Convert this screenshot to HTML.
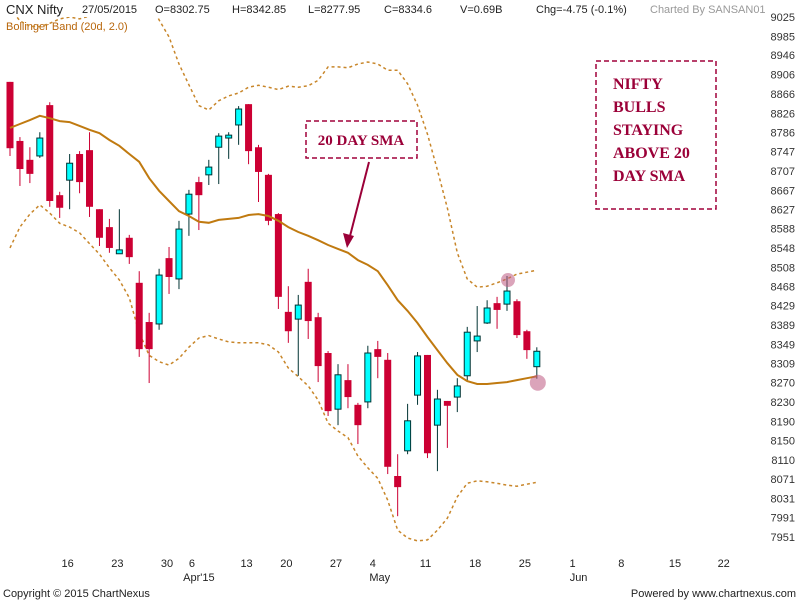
<!DOCTYPE html>
<html><head><meta charset="utf-8"><style>
html,body{margin:0;padding:0;background:#fff;}
svg{display:block;font-family:"Liberation Sans",sans-serif;}
</style></head><body>
<svg id="chart" width="800" height="600" viewBox="0 0 800 600" xmlns="http://www.w3.org/2000/svg">
<defs><clipPath id="plotclip"><rect x="0" y="17" width="760" height="540"/></clipPath></defs>
<rect width="800" height="600" fill="#fff"/>
<g id="header" font-size="11" fill="#222">
<text x="6" y="14" font-size="13">CNX Nifty</text>
<text x="82" y="13">27/05/2015</text>
<text x="155" y="13">O=8302.75</text>
<text x="232" y="13">H=8342.85</text>
<text x="308" y="13">L=8277.95</text>
<text x="384" y="13">C=8334.6</text>
<text x="460" y="13">V=0.69B</text>
<text x="536" y="13">Chg=-4.75 (-0.1%)</text>
<text x="650" y="13" fill="#999">Charted By SANSAN01</text>
<text x="6" y="30" fill="#b8660b">Bollinger Band (20d, 2.0)</text>
</g>
<g id="yaxis" font-size="11" fill="#333" text-anchor="end"></g>
<g id="xaxis" font-size="11" fill="#222" text-anchor="middle"></g>
<g id="bands" clip-path="url(#plotclip)"></g>
<g id="candles"></g>
<g id="marks"></g>
<g>
<rect x="306" y="121" width="111" height="37" fill="none" stroke="#a0003a" stroke-width="1.5" stroke-dasharray="5,3"/>
<text x="361" y="145" text-anchor="middle" font-family="'Liberation Serif',serif" font-weight="bold" font-size="15" fill="#9b0038">20 DAY SMA</text>
<line x1="369" y1="162" x2="349" y2="240" stroke="#9b0038" stroke-width="2"/>
<polygon points="347,248 343,233 354,236" fill="#9b0038"/>
</g>
<g font-family="'Liberation Serif',serif" font-weight="bold" font-size="16" fill="#9b0038">
<rect x="596" y="61" width="120" height="148" fill="none" stroke="#a0003a" stroke-width="1.5" stroke-dasharray="5,3"/>
<text x="613" y="89">NIFTY</text>
<text x="613" y="112">BULLS</text>
<text x="613" y="135">STAYING</text>
<text x="613" y="158">ABOVE 20</text>
<text x="613" y="181">DAY SMA</text>
</g>
<text x="3" y="597" font-size="11" fill="#222">Copyright © 2015 ChartNexus</text>
<text x="796" y="597" font-size="11" fill="#222" text-anchor="end">Powered by www.chartnexus.com</text>
</svg>
<script>
const opens=[8891,8769,8730,8738,8843,8657,8688,8742,8750,8628,8591,8536,8569,8476,8395,8391,8527,8484,8618,8684,8699,8756,8775,8802,8845,8756,8699,8618,8416,8401,8478,8405,8331,8215,8275,8224,8230,8339,8317,8077,8129,8244,8327,8182,8232,8240,8284,8356,8393,8434,8432,8438,8376,8302.75];
const highs=[8891,8777,8756,8787,8849,8664,8742,8748,8787,8628,8608,8628,8575,8500,8414,8505,8550,8604,8668,8695,8730,8785,8787,8841,8845,8761,8701,8620,8469,8451,8505,8414,8335,8308,8308,8228,8346,8356,8331,8122,8226,8333,8327,8255,8232,8279,8385,8428,8440,8447,8490,8442,8379,8342.85];
const lows=[8738,8676,8682,8734,8633,8610,8628,8661,8612,8552,8538,8536,8515,8323,8269,8379,8453,8463,8573,8585,8678,8680,8732,8761,8721,8643,8595,8422,8352,8284,8360,8271,8201,8182,8217,8143,8217,8279,8081,7994,8122,8224,8114,8087,8135,8209,8273,8333,8391,8381,8418,8362,8319,8277.95];
const closes=[8754,8711,8701,8775,8645,8631,8723,8684,8633,8569,8548,8544,8529,8339,8339,8492,8488,8587,8659,8657,8715,8779,8781,8835,8748,8705,8604,8447,8376,8430,8397,8304,8211,8286,8240,8182,8331,8323,8096,8054,8191,8325,8124,8236,8222,8263,8374,8366,8424,8420,8459,8368,8337,8334.6];
const sma=[8796,8804,8812,8821,8816,8810,8808,8800,8792,8785,8771,8759,8742,8726,8692,8666,8645,8624,8614,8602,8600,8606,8608,8610,8616,8618,8614,8604,8591,8581,8573,8564,8554,8546,8538,8523,8513,8500,8471,8440,8418,8393,8364,8337,8310,8286,8273,8267,8267,8269,8271,8275,8279,8283];
const bandDev=[248,213,194,184,196,211,217,221,235,250,264,277,297,353,366,353,339,304,271,240,233,246,254,258,264,266,266,271,291,299,310,330,368,376,382,405,419,428,444,475,469,450,419,372,320,252,211,200,202,207,213,219,219,219];
const yTicks=[9025,8985,8946,8906,8866,8826,8786,8747,8707,8667,8627,8588,8548,8508,8468,8429,8389,8349,8309,8270,8230,8190,8150,8110,8071,8031,7991,7951];
const dayLabels=["16","23","30","6","13","20","27","4","11","18","25","1","8","15","22"];
const dayIndex=[5.8,10.8,15.8,18.3,23.8,27.8,32.8,36.5,41.8,46.8,51.8,56.6,61.5,66.9,71.8];
const monthLabels=["Apr'15","May","Jun"];
const monthIndex=[19,37.2,57.2];
const highlightIdx=[50,53];

const NS="http://www.w3.org/2000/svg";
const yScale=p=>17+(9025-p)*520/1074;
const xScale=i=>10+i*9.94;
function mk(tag,attrs,parent){const e=document.createElementNS(NS,tag);for(const k in attrs)e.setAttribute(k,attrs[k]);parent.appendChild(e);return e;}
const ya=document.getElementById('yaxis');
yTicks.forEach(v=>{const t=mk('text',{x:795,y:yScale(v)+4},ya);t.textContent=v;

});
const xa=document.getElementById('xaxis');
dayLabels.forEach((d,k)=>{const t=mk('text',{x:xScale(dayIndex[k]),y:567},xa);t.textContent=d;

});
monthLabels.forEach((m,k)=>{const t=mk('text',{x:xScale(monthIndex[k]),y:581},xa);t.textContent=m;

});
const bg=document.getElementById('bands');
const pts=f=>sma.map((s,i)=>xScale(i).toFixed(1)+','+yScale(f(s,i)).toFixed(1)).join(' ');
const up=mk('polyline',{points:pts((s,i)=>s+bandDev[i]),fill:'none',stroke:'#c8862a','stroke-width':1.5,'stroke-dasharray':'3,3'},bg);


const lo=mk('polyline',{points:pts((s,i)=>s-bandDev[i]),fill:'none',stroke:'#c8862a','stroke-width':1.5,'stroke-dasharray':'3,3'},bg);


const cg=document.getElementById('candles');
opens.forEach((o,i)=>{const c=closes[i],x=xScale(i),bull=c>=o;
const g=mk('g',{},cg);


const col=bull?'#003333':'#cc0033';
mk('line',{x1:x,x2:x,y1:yScale(highs[i]),y2:yScale(lows[i]),stroke:col,'stroke-width':1},g);
const t=yScale(Math.max(o,c)),b=yScale(Math.min(o,c));
if(bull)mk('rect',{x:x-3,y:t,width:6,height:Math.max(1,b-t),fill:'#00ffff',stroke:'#003333','stroke-width':1},g);
else mk('rect',{x:x-3.5,y:t,width:7,height:Math.max(1,b-t),fill:'#cc0033'},g);});
const sl=mk('polyline',{points:pts(s=>s),fill:'none',stroke:'#c07a10','stroke-width':2},bg.parentNode);


const mg=document.getElementById('marks');
mg.parentNode.appendChild(mg);
const hv=[highs[highlightIdx[0]],lows[highlightIdx[1]]];
highlightIdx.forEach((i,k)=>{const c=mk('circle',{cx:xScale(i)+1,cy:yScale(hv[k])+4,r:k?8:7,fill:'rgba(190,90,130,0.55)'},mg);

});
</script>
</body></html>
